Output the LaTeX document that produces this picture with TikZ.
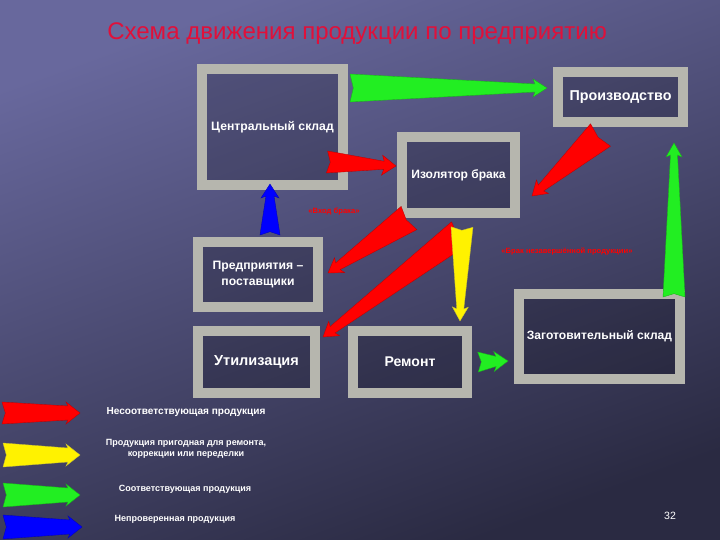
\documentclass[tikz,border=0pt]{standalone}
\usepackage{fontspec}
\setmainfont{Liberation Sans}
\usetikzlibrary{calc}

\definecolor{bgtop}{HTML}{68689D}
\definecolor{bgbot}{HTML}{2A2A42}
\definecolor{frame}{HTML}{B6B6AE}
\definecolor{title}{HTML}{E0103A}
\definecolor{agreen}{HTML}{22EE22}

% tapered arrow: colour, start, end, tail / neck / head half-widths (px)
\newcommand{\fatarrow}[6]{%
  \pgfmathsetlengthmacro\tw{#4*0.03cm}%
  \pgfmathsetlengthmacro\nw{#5*0.03cm}%
  \pgfmathsetlengthmacro\hw{#6*0.03cm}%
  \coordinate (fa-tl) at ($(#2)!\tw!90:(#3)$);
  \coordinate (fa-tr) at ($(#2)!\tw!-90:(#3)$);
  \coordinate (fa-tn) at ($(#2)!0.1cm!(#3)$);
  \coordinate (fa-hb) at ($(#3)!0.36cm!(#2)$);
  \coordinate (fa-wb) at ($(#3)!0.42cm!(#2)$);
  \coordinate (fa-nl) at ($(fa-hb)!\nw!-90:(#2)$);
  \coordinate (fa-nr) at ($(fa-hb)!\nw!90:(#2)$);
  \coordinate (fa-wl) at ($(fa-wb)!\hw!-90:(#2)$);
  \coordinate (fa-wr) at ($(fa-wb)!\hw!90:(#2)$);
  \fill[#1, draw=#1!75!black, line width=0.3pt] (fa-tl) -- (fa-nl) -- (fa-wl) -- (#3)
    -- (fa-wr) -- (fa-nr) -- (fa-tr) -- (fa-tn) -- cycle;
}

\begin{document}
\begin{tikzpicture}[x=0.03cm, y=-0.03cm,
  box/.style={draw=frame, line width=0.3cm, fill=black, fill opacity=0.18,
    draw opacity=1, text opacity=1, text=white, align=center, inner sep=0pt},
  legend/.style={text=white, font=\fontsize{7.7}{9.4}\selectfont\bfseries, align=center},
  note/.style={text=red, font=\fontsize{6.5}{7}\selectfont\bfseries}]
\useasboundingbox (0,0) rectangle (720,540);

% Background
\shade[top color=bgtop, bottom color=bgbot, shading angle=20] (0,0) rectangle (720,540);

% Title
\node[text=title, font=\fontsize{20.5}{24}\selectfont] (title) at (357,34) {Схема движения продукции по предприятию};

% Boxes
\node[box, minimum width=4.23cm, minimum height=3.48cm, font=\fontsize{10.4}{12}\selectfont\bfseries] (central) at (272.5,127) {Центральный склад};
\node[box, minimum width=3.75cm, minimum height=1.5cm, font=\fontsize{12.2}{14}\selectfont\bfseries] (prod) at (620.5,97) {Производство};
\node[box, minimum width=3.39cm, minimum height=2.28cm, font=\fontsize{10.3}{12}\selectfont\bfseries] (izol) at (458.5,175) {Изолятор брака};
\node[box, minimum width=3.6cm, minimum height=1.95cm, font=\fontsize{10.4}{13}\selectfont\bfseries] (supp) at (258,274.5) {Предприятия –\\поставщики};
\node[box, minimum width=3.51cm, minimum height=1.86cm, font=\fontsize{12.4}{14}\selectfont\bfseries] (util) at (256.5,362) {Утилизация};
\node[box, minimum width=3.42cm, minimum height=1.86cm, font=\fontsize{12}{14}\selectfont\bfseries] (rem) at (410,362) {Ремонт};
\node[box, minimum width=4.83cm, minimum height=2.55cm, font=\fontsize{10.3}{12}\selectfont\bfseries] (zag) at (599.5,336.5) {Заготовительный склад};

% Arrow ends
\coordinate (c-g) at ($(central.east)+(2,-39)$);
\coordinate (p-g) at ($(prod.west)+(-6,-9)$);
\coordinate (c-r) at ($(central.east)+(-21,35)$);
\coordinate (i-r) at ($(izol.west)+(-1,-9)$);
\coordinate (p-r) at ($(prod.south)+(-20,8)$);
\coordinate (i-rr) at ($(izol.east)+(12,21)$);
\coordinate (i-s) at ($(izol.south west)+(12,0)$);
\coordinate (s-r) at ($(supp.east)+(5,-1.5)$);
\coordinate (i-u) at ($(izol.south)+(1.5,15)$);
\coordinate (u-r) at ($(util.north east)+(3,11)$);
\coordinate (i-y) at ($(izol.south)+(3.5,9)$);
\coordinate (r-y) at ($(rem.north east)+(-12,-5)$);
\coordinate (r-g) at ($(rem.east)+(6,0)$);
\coordinate (z-g) at ($(zag.west)+(-6,24.5)$);
\coordinate (z-u) at ($(zag.north east)+(-11,8)$);
\coordinate (p-u) at ($(prod.south east)+(-14,16)$);
\coordinate (s-b) at ($(supp.north)+(12,-2)$);
\coordinate (c-b) at ($(central.south)+(-2.5,-6)$);

% Arrows
\fatarrow{agreen}{c-g}{p-g}{14}{4}{9}
\fatarrow{red}{c-r}{i-r}{11}{4}{10}
\fatarrow{red}{p-r}{i-rr}{15}{4}{9}
\fatarrow{red}{i-s}{s-r}{14}{4}{9}
\fatarrow{red}{i-u}{u-r}{14}{4}{9}
\fatarrow{yellow}{i-y}{r-y}{11}{3.5}{8}
\fatarrow{agreen}{r-g}{z-g}{10}{5}{10}
\fatarrow{agreen}{z-u}{p-u}{11}{3.5}{8}
\fatarrow{blue}{s-b}{c-b}{10}{4}{9}

% Notes
\node[note] (n1) at (334,211) {«Вход брака»};
\node[note] (n2) at (567,251) {«Брак незавершённой продукции»};

% Legend
\coordinate (lr-s) at (2,413); \coordinate (lr-e) at (80,413);
\coordinate (ly-s) at (3,455); \coordinate (ly-e) at (80,455);
\coordinate (lg-s) at (3,495); \coordinate (lg-e) at (80,495);
\coordinate (lb-s) at (3,527); \coordinate (lb-e) at (82,527);
\fatarrow{red}{lr-s}{lr-e}{11}{7}{11}
\fatarrow{yellow}{ly-s}{ly-e}{12}{7}{11}
\fatarrow{agreen}{lg-s}{lg-e}{12}{7}{11}
\fatarrow{blue}{lb-s}{lb-e}{12}{7}{11}
\node[legend, font=\fontsize{8.6}{10}\selectfont\bfseries] (t1) at (186,412) {Несоответствующая продукция};
\node[legend] (t2) at (186,449) {Продукция пригодная для ремонта,\\коррекции или переделки};
\node[legend] (t3) at (185,489) {Соответствующая продукция};
\node[legend] (t4) at (175,519) {Непроверенная продукция};

% Page number
\node[text=white, font=\fontsize{9}{10}\selectfont] (page) at (670,516) {32};
\end{tikzpicture}
\end{document}
